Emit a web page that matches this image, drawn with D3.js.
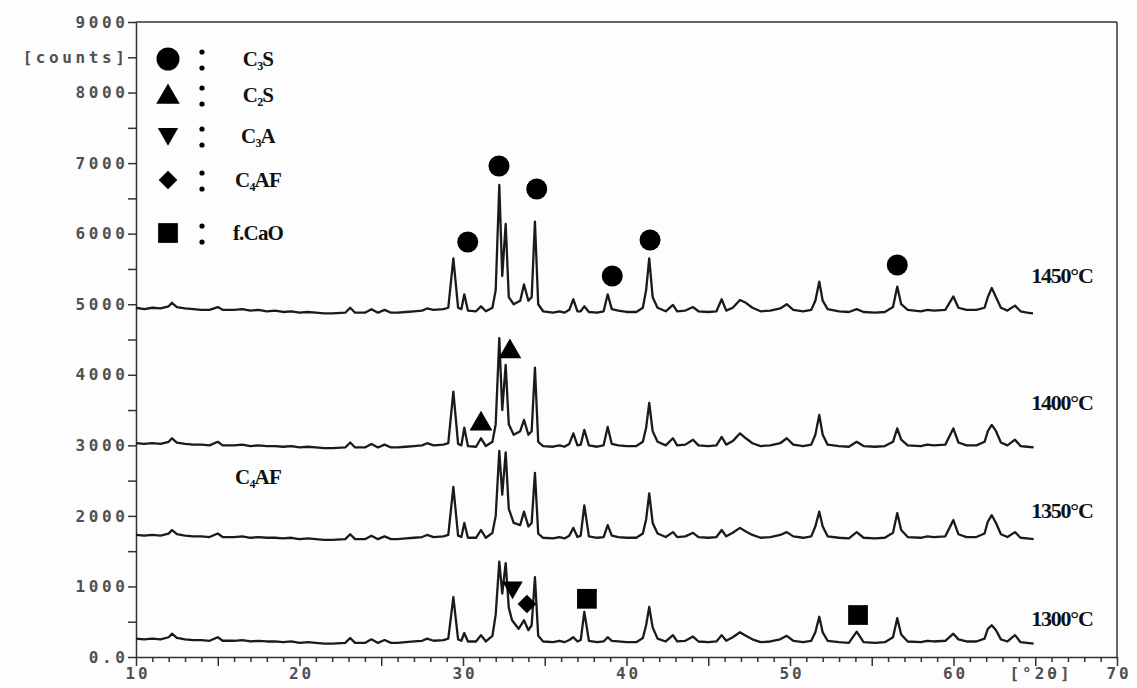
<!DOCTYPE html>
<html><head><meta charset="utf-8">
<script src="https://cdn.jsdelivr.net/npm/d3@7"></script>
<style>body{margin:0;background:#fdfdfd}</style>
</head><body>
<svg id="c" width="1137" height="688"></svg>
<script>
// ---------- data ----------
const trace1450 = [[10,4950],[10.5,4930],[11,4950],[11.5,4940],[12,4970],[12.2,5020],[12.5,4960],[13,4940],[13.5,4930],[14,4920],[14.5,4920],[15,4960],[15.3,4920],[16,4920],[16.5,4930],[17,4910],[17.5,4920],[18,4900],[18.5,4910],[19,4890],[19.5,4900],[20,4880],[20.5,4890],[21,4880],[21.5,4870],[22,4870],[22.8,4880],[23.1,4950],[23.4,4880],[24,4880],[24.4,4930],[24.8,4880],[25.2,4920],[25.6,4880],[26,4880],[26.5,4890],[27,4900],[27.5,4910],[27.8,4940],[28.2,4920],[28.8,4930],
[29.1,4950],[29.41,5650],[29.7,4950],[29.9,4930],[30.08,5140],[30.3,4910],[30.8,4900],[31.1,4970],[31.4,4900],[31.8,4950],[32.0,5200],[32.22,6690],[32.4,5400],[32.61,6140],[32.8,5100],[33.1,5000],[33.5,5050],[33.73,5280],[34.0,5050],[34.2,5100],[34.4,6170],[34.6,5000],[34.9,4900],[35.5,4880],[35.9,4900],[36.2,4880],[36.5,4920],[36.75,5070],[37.0,4900],[37.2,4900],[37.42,4970],[37.7,4890],[38.2,4880],[38.6,4900],[38.85,5140],[39.1,4930],[39.5,4910],[40.0,4890],[40.6,4890],[41.0,4950],[41.2,5200],[41.39,5650],[41.6,5100],[41.9,4950],[42.4,4900],[42.84,4990],[43.1,4900],[43.6,4910],[44.07,4960],[44.4,4900],[45.0,4890],[45.5,4900],[45.82,5070],[46.1,4910],[46.5,4950],[46.94,5060],[47.3,5020],[47.7,4950],[48.2,4900],[48.8,4910],[49.4,4940],[49.8,5000],[50.2,4920],[50.8,4900],[51.3,4920],[51.55,5050],[51.79,5320],[52.0,5050],[52.3,4930],[53.0,4900],[53.6,4890],[54.08,4930],[54.5,4890],[55.2,4880],[55.8,4890],[56.3,4960],[56.56,5250],[56.8,5000],[57.2,4920],[58.0,4900],[58.4,4920],[58.8,4910],[59.5,4920],[59.99,5110],[60.3,4950],[60.8,4920],[61.4,4920],[61.9,4950],[62.1,5100],[62.34,5230],[62.6,5100],[62.9,4950],[63.3,4910],[63.76,4980],[64.1,4900],[64.5,4880],[64.86,4870]];

const trace1400 = [[10,3030],[10.5,3020],[11,3030],[11.5,3020],[12,3050],[12.2,3100],[12.5,3040],[13,3020],[13.5,3010],[14,3010],[14.5,3000],[15,3050],[15.3,3000],[16,3000],[16.5,3010],[17,2990],[17.5,3000],[18,2990],[18.5,2990],[19,2980],[19.5,2990],[20,2970],[20.5,2980],[21,2970],[21.5,2960],[22,2960],[22.8,2970],[23.1,3040],[23.4,2970],[24,2970],[24.4,3020],[24.8,2970],[25.2,3010],[25.6,2970],[26,2970],[26.5,2980],[27,2990],[27.5,3000],[27.8,3030],[28.2,3000],[28.8,3010],
[29.1,3030],[29.41,3760],[29.7,3020],[29.9,3000],[30.08,3250],[30.3,2990],[30.8,2980],[31.1,3100],[31.4,2990],[31.8,3050],[32.0,3300],[32.22,4520],[32.4,3500],[32.61,4140],[32.8,3300],[33.1,3150],[33.5,3200],[33.73,3360],[34.0,3150],[34.2,3200],[34.4,4100],[34.6,3050],[34.9,2990],[35.5,2980],[35.9,3000],[36.2,2980],[36.5,3020],[36.75,3170],[37.0,3000],[37.2,3010],[37.42,3220],[37.7,3000],[38.2,2980],[38.6,3000],[38.85,3260],[39.1,3020],[39.5,3000],[40.0,2990],[40.6,2990],[41.0,3050],[41.2,3250],[41.39,3600],[41.6,3200],[41.9,3050],[42.4,3000],[42.84,3100],[43.1,3000],[43.6,3010],[44.07,3080],[44.4,3000],[45.0,2990],[45.5,3000],[45.82,3120],[46.1,3010],[46.5,3060],[46.94,3170],[47.3,3100],[47.7,3030],[48.2,2990],[48.8,3000],[49.4,3030],[49.8,3100],[50.2,3010],[50.8,2990],[51.3,3010],[51.55,3150],[51.79,3430],[52.0,3150],[52.3,3010],[53.0,2990],[53.6,2980],[54.08,3050],[54.5,2990],[55.2,2980],[55.8,2990],[56.3,3050],[56.56,3240],[56.8,3080],[57.2,3000],[58.0,2990],[58.4,3010],[58.8,3000],[59.5,3010],[59.99,3240],[60.3,3040],[60.8,3000],[61.4,3000],[61.9,3050],[62.1,3200],[62.34,3290],[62.6,3200],[62.9,3040],[63.3,3000],[63.76,3080],[64.1,2990],[64.5,2980],[64.9,2970]];

const trace1350 = [[10,1730],[10.5,1720],[11,1730],[11.5,1720],[12,1750],[12.2,1800],[12.5,1740],[13,1720],[13.5,1710],[14,1710],[14.5,1700],[15,1750],[15.3,1700],[16,1700],[16.5,1710],[17,1690],[17.5,1700],[18,1690],[18.5,1690],[19,1680],[19.5,1690],[20,1670],[20.5,1680],[21,1670],[21.5,1660],[22,1660],[22.8,1670],[23.1,1740],[23.4,1670],[24,1670],[24.4,1720],[24.8,1670],[25.2,1710],[25.6,1670],[26,1670],[26.5,1680],[27,1690],[27.5,1700],[27.8,1730],[28.2,1700],[28.8,1710],
[29.1,1730],[29.41,2410],[29.7,1720],[29.9,1700],[30.08,1900],[30.3,1690],[30.8,1690],[31.1,1800],[31.4,1690],[31.8,1760],[32.0,2000],[32.22,2920],[32.4,2300],[32.61,2900],[32.8,2100],[33.1,1900],[33.5,1870],[33.73,2060],[34.0,1850],[34.2,1900],[34.4,2610],[34.6,1750],[34.9,1690],[35.5,1680],[35.9,1700],[36.2,1680],[36.5,1720],[36.75,1830],[37.0,1700],[37.2,1720],[37.42,2150],[37.7,1710],[38.2,1690],[38.6,1700],[38.85,1870],[39.1,1720],[39.5,1700],[40.0,1690],[40.6,1690],[41.0,1750],[41.2,1950],[41.39,2320],[41.6,1900],[41.9,1750],[42.4,1700],[42.84,1770],[43.1,1700],[43.6,1710],[44.07,1760],[44.4,1700],[45.0,1690],[45.5,1700],[45.82,1800],[46.1,1710],[46.5,1760],[46.94,1830],[47.3,1780],[47.7,1730],[48.2,1690],[48.8,1700],[49.4,1730],[49.8,1770],[50.2,1710],[50.8,1690],[51.3,1710],[51.55,1850],[51.79,2060],[52.0,1850],[52.3,1710],[53.0,1690],[53.6,1680],[54.08,1770],[54.5,1690],[55.2,1680],[55.8,1690],[56.3,1760],[56.56,2040],[56.8,1800],[57.2,1700],[58.0,1690],[58.4,1710],[58.8,1700],[59.5,1710],[59.99,1940],[60.3,1740],[60.8,1700],[61.4,1700],[61.9,1750],[62.1,1920],[62.34,2010],[62.6,1900],[62.9,1740],[63.3,1700],[63.76,1770],[64.1,1690],[64.5,1680],[64.9,1670]];

const trace1300 = [[10,260],[10.5,250],[11,260],[11.5,250],[12,280],[12.2,330],[12.5,270],[13,250],[13.5,240],[14,240],[14.5,230],[15,280],[15.3,230],[16,230],[16.5,240],[17,220],[17.5,230],[18,220],[18.5,220],[19,210],[19.5,220],[20,200],[20.5,210],[21,200],[21.5,190],[22,190],[22.8,200],[23.1,270],[23.4,200],[24,200],[24.4,250],[24.8,200],[25.2,240],[25.6,200],[26,200],[26.5,210],[27,220],[27.5,230],[27.8,260],[28.2,230],[28.8,240],
[29.1,260],[29.41,850],[29.7,250],[29.9,230],[30.08,340],[30.3,220],[30.8,220],[31.1,310],[31.4,220],[31.8,300],[32.0,600],[32.22,1350],[32.4,900],[32.61,1330],[32.8,700],[33.0,520],[33.4,400],[33.73,520],[34.0,380],[34.2,450],[34.4,1130],[34.6,300],[34.9,220],[35.5,210],[35.9,230],[36.2,210],[36.5,240],[36.75,280],[37.0,220],[37.2,240],[37.42,640],[37.7,230],[38.2,210],[38.6,220],[38.85,280],[39.1,230],[39.5,220],[40.0,210],[40.6,210],[41.0,270],[41.2,450],[41.39,710],[41.6,420],[41.9,260],[42.4,220],[42.84,310],[43.1,220],[43.6,230],[44.07,290],[44.4,220],[45.0,210],[45.5,220],[45.82,310],[46.1,230],[46.5,280],[46.94,350],[47.3,300],[47.7,250],[48.2,210],[48.8,220],[49.4,250],[49.8,300],[50.2,230],[50.8,210],[51.3,230],[51.55,350],[51.79,570],[52.0,350],[52.3,230],[53.0,210],[53.6,200],[54.08,360],[54.5,210],[55.2,200],[55.8,210],[56.3,280],[56.56,550],[56.8,320],[57.2,220],[58.0,210],[58.4,230],[58.8,220],[59.5,230],[59.99,330],[60.3,250],[60.8,220],[61.4,220],[61.9,260],[62.1,400],[62.34,450],[62.6,380],[62.9,250],[63.3,220],[63.76,310],[64.1,210],[64.5,200],[64.9,190]];

const traces = [trace1450, trace1400, trace1350, trace1300];
const tempLabels = ["1450°C", "1400°C", "1350°C", "1300°C"];
const tempLabelLevels = [5414, 3614, 2083, 553];

// phase markers [2theta, counts]
const marksC3S  = [[30.29,5882],[32.2,6959],[34.51,6633],[39.13,5400],[41.44,5910],[56.56,5556]];
const marksC2S  = [[31.1,3302],[32.87,4327]];
const marksC3A  = [[33.03,985]];
const marksC4AF = [[33.91,751]];
const marksCaO  = [[37.58,825],[54.16,595]];

const legendNames = ["C3S", "C2S", "C3A", "C4AF", "f.CaO"];
const yTickValues = d3.range(0, 9001, 500);
const xTickValues = d3.range(10, 71, 1);
const xUnitLabel = "[°2θ]";
const yUnitLabel = "[counts]";

// ---------- chart ----------
const svg = d3.select("#c");
svg.append("rect").attr("width",1137).attr("height",688).attr("fill","#fdfdfd");

const x = d3.scaleLinear().domain([10,70]).range([136,1117]);
const y = d3.scaleLinear().domain([0,9000]).range([657,22]);

const monoFont = "DejaVu Sans Mono";
const serifFont = "Liberation Serif";
const axisCol = "#333";
const labelCol = "#505050";

// frame (top and right)
svg.append("line").attr("x1",x(10)).attr("x2",x(70)).attr("y1",y(9000)).attr("y2",y(9000))
  .attr("stroke",axisCol).attr("stroke-width",1.5);
svg.append("line").attr("x1",x(70)).attr("x2",x(70)).attr("y1",y(9000)).attr("y2",y(0))
  .attr("stroke",axisCol).attr("stroke-width",1.5);

// y axis
const yAxis = d3.axisLeft(y).tickValues(yTickValues).tickSize(8).tickSizeOuter(0).tickPadding(3)
  .tickFormat(d => d === 0 ? "0.0" : d === 8500 ? yUnitLabel : (d % 1000 === 0 ? String(d) : ""));
const gy = svg.append("g").attr("transform",`translate(${x(10)},0)`).call(yAxis);
gy.selectAll("path,line").attr("stroke",axisCol).attr("stroke-width",1.5);
gy.selectAll("text").attr("font-family",monoFont).attr("font-weight","bold").attr("font-size",16)
  .attr("letter-spacing","3.6px").attr("fill",labelCol).attr("x",-7.5);

// x axis
const xAxis = d3.axisBottom(x).tickValues(xTickValues).tickSize(5).tickSizeOuter(0).tickPadding(6)
  .tickFormat(d => d % 10 === 0 ? String(d) : "");
const gx = svg.append("g").attr("transform",`translate(0,${y(0)})`).call(xAxis);
gx.selectAll("path,line").attr("stroke",axisCol).attr("stroke-width",1.5);
gx.selectAll(".tick").filter(d => d % 5 === 0).select("line").attr("y2",9);
gx.selectAll("text").attr("font-family",monoFont).attr("font-weight","bold").attr("font-size",16)
  .attr("letter-spacing","3px").attr("fill",labelCol).attr("dx","1.5px");
gx.append("text").attr("x",x(65.35)).attr("y",11).attr("dy","0.71em").attr("text-anchor","middle")
  .attr("font-family",monoFont).attr("font-weight","bold").attr("font-size",16)
  .attr("letter-spacing","3px").attr("fill",labelCol)
  .text(xUnitLabel);

// traces
const line = d3.line().x(d => x(d[0])).y(d => y(d[1]));
svg.append("g").selectAll("path").data(traces).join("path")
  .attr("d", line).attr("fill","none").attr("stroke","#1a1a1a").attr("stroke-width",2.3)
  .attr("stroke-linejoin","round");

// temperature labels
svg.append("g").selectAll("text").data(tempLabels).join("text")
  .attr("x", x(64.75)).attr("y",(d,i) => y(tempLabelLevels[i])).attr("dy","0.35em")
  .attr("font-family",serifFont).attr("font-weight","bold").attr("font-size",22)
  .attr("letter-spacing","-1.2px").attr("fill","#111").text(d => d);

// markers
const mk = svg.append("g").attr("fill","#000");
mk.selectAll("circle").data(marksC3S).join("circle")
  .attr("cx",d => x(d[0])).attr("cy",d => y(d[1])).attr("r",10.5);
mk.selectAll("path.c2s").data(marksC2S).join("path").attr("class","c2s")
  .attr("d", d3.symbol(d3.symbolTriangle, 225))
  .attr("transform", d => `translate(${x(d[0])},${y(d[1])})`);
mk.selectAll("path.c3a").data(marksC3A).join("path").attr("class","c3a")
  .attr("d", d3.symbol(d3.symbolTriangle, 180))
  .attr("transform", d => `translate(${x(d[0])},${y(d[1])}) rotate(180)`);
mk.selectAll("path.c4af").data(marksC4AF).join("path").attr("class","c4af")
  .attr("d", d3.symbol(d3.symbolSquare, 175))
  .attr("transform", d => `translate(${x(d[0])},${y(d[1])}) rotate(45)`);
mk.selectAll("path.cao").data(marksCaO).join("path").attr("class","cao")
  .attr("d", d3.symbol(d3.symbolSquare, 390))
  .attr("transform", d => `translate(${x(d[0])},${y(d[1])})`);

// legend
const legendY = [59, 95, 136, 180, 233];
const lg = svg.append("g");
const legendSym = [
  g => g.append("circle").attr("r",11.5),
  g => g.append("path").attr("d", d3.symbol(d3.symbolTriangle, 240)).attr("transform","translate(0,2)"),
  g => g.append("path").attr("d", d3.symbol(d3.symbolTriangle, 180)).attr("transform","translate(0,-2) rotate(180)"),
  g => g.append("path").attr("d", d3.symbol(d3.symbolSquare, 175)).attr("transform","rotate(45)"),
  g => g.append("path").attr("d", d3.symbol(d3.symbolSquare, 390))
];
legendNames.forEach((name, i) => {
  const row = lg.append("g").attr("transform",`translate(168,${legendY[i]})`);
  legendSym[i](row).attr("fill","#000");
  row.append("circle").attr("cx",34).attr("cy",-7).attr("r",2.6).attr("fill","#000");
  row.append("circle").attr("cx",34).attr("cy",9).attr("r",2.6).attr("fill","#000");
  const t = row.append("text").attr("x",90).attr("y",0).attr("dy","0.35em").attr("text-anchor","middle")
    .attr("font-family",serifFont).attr("font-weight","bold").attr("font-size",21)
    .attr("letter-spacing","-0.8px").attr("fill","#111");
  addFormula(t, name);
});

function addFormula(t, name) {
  // digit directly after "C" becomes a subscript
  const parts = name.match(/\d|[^\d]+/g);
  let sub = false;
  parts.forEach(p => {
    if (/\d/.test(p)) {
      t.append("tspan").attr("font-size",12).attr("dy",4).text(p);
      sub = true;
    } else {
      const s = t.append("tspan").text(p);
      if (sub) { s.attr("dy",-4); sub = false; }
    }
  });
}

// standalone C4AF label
const c4 = svg.append("text").attr("x",258).attr("y",477).attr("dy","0.35em").attr("text-anchor","middle")
  .attr("font-family",serifFont).attr("font-weight","bold").attr("font-size",21)
  .attr("letter-spacing","-0.8px").attr("fill","#111");
addFormula(c4, "C4AF");
</script>
</body></html>
